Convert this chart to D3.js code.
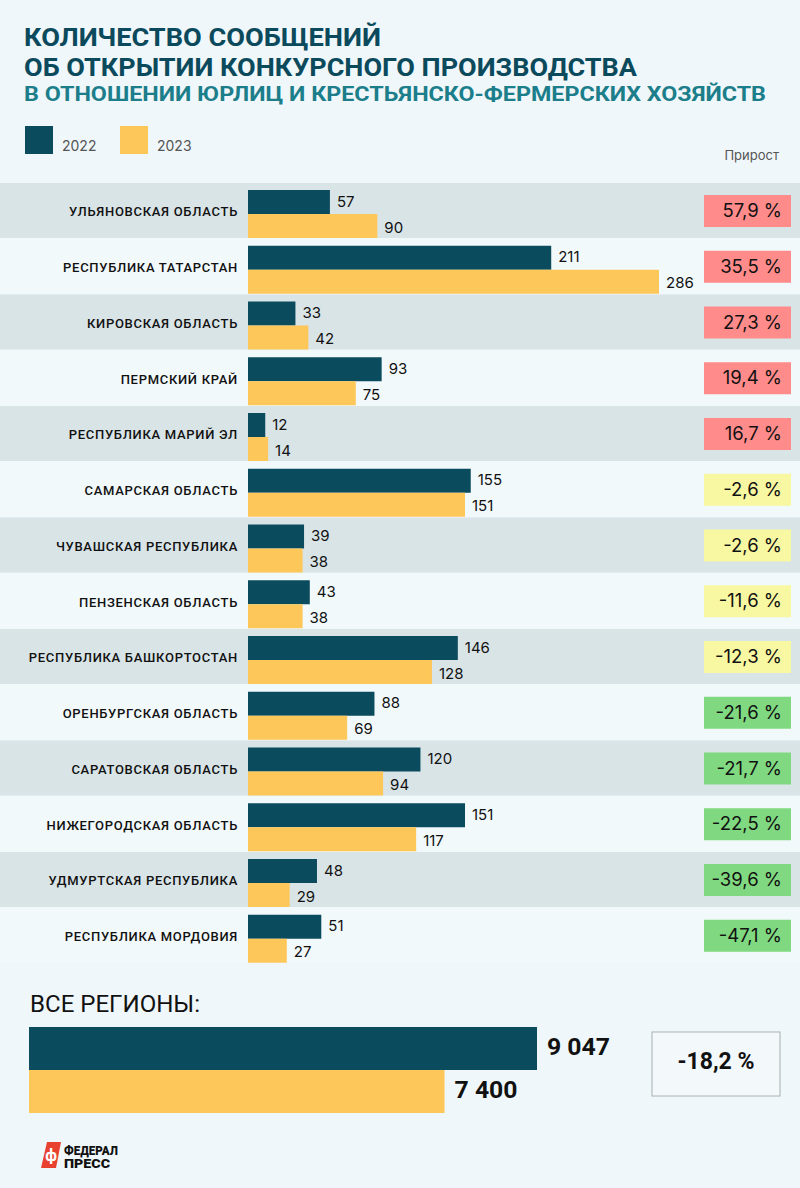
<!DOCTYPE html>
<html><head><meta charset="utf-8">
<script src="https://cdn.jsdelivr.net/npm/d3@7"></script>
<style>
html,body{margin:0;padding:0;background:#eff7fa;}
svg{display:block;}
</style></head>
<body>
<svg id="chart" width="800" height="1188"></svg>
<script>
const regions = ["УЛЬЯНОВСКАЯ ОБЛАСТЬ","РЕСПУБЛИКА ТАТАРСТАН","КИРОВСКАЯ ОБЛАСТЬ","ПЕРМСКИЙ КРАЙ","РЕСПУБЛИКА МАРИЙ ЭЛ","САМАРСКАЯ ОБЛАСТЬ","ЧУВАШСКАЯ РЕСПУБЛИКА","ПЕНЗЕНСКАЯ ОБЛАСТЬ","РЕСПУБЛИКА БАШКОРТОСТАН","ОРЕНБУРГСКАЯ ОБЛАСТЬ","САРАТОВСКАЯ ОБЛАСТЬ","НИЖЕГОРОДСКАЯ ОБЛАСТЬ","УДМУРТСКАЯ РЕСПУБЛИКА","РЕСПУБЛИКА МОРДОВИЯ"];
const values2022 = [57,211,33,93,12,155,39,43,146,88,120,151,48,51];
const values2023 = [90,286,42,75,14,151,38,38,128,69,94,117,29,27];
const growth = [57.9,35.5,27.3,19.4,16.7,-2.6,-2.6,-11.6,-12.3,-21.6,-21.7,-22.5,-39.6,-47.1];
const growthClass = ["up","up","up","up","up","mid","mid","mid","mid","down","down","down","down","down"];
const seriesNames = ["2022","2023"];
const totalValues = [9047,7400];
const totalGrowth = -18.2;
const titleLines = ["КОЛИЧЕСТВО СООБЩЕНИЙ","ОБ ОТКРЫТИИ КОНКУРСНОГО ПРОИЗВОДСТВА"];
const subtitle = "В ОТНОШЕНИИ ЮРЛИЦ И КРЕСТЬЯНСКО-ФЕРМЕРСКИХ ХОЗЯЙСТВ";

const C = {bg:"#eff7fa", band:"#d9e4e7", dark:"#0b4b5e", yellow:"#fec75a",
  up:"#ff8b8b", mid:"#f8f8a2", down:"#80d980", title:"#0b4a5c", sub:"#1b7e8a", text:"#111"};
const fmtPct = v => d3.format(".1f")(v).replace(".", ",").replace("−", "-") + " %";
const fmtInt = v => d3.format(",")(v).replace(/,/g, " ");

const svg = d3.select("#chart");
svg.append("rect").attr("width",800).attr("height",1188).attr("fill",C.bg);

// Title
const tw = [357, 613];
titleLines.forEach((t,i)=>{
  svg.append("text").attr("x",24).attr("y",46+i*29.5).text(t)
    .attr("font-family","Roboto").attr("font-weight",700).attr("font-size",26.5)
    .attr("fill",C.title).attr("textLength",tw[i]).attr("lengthAdjust","spacingAndGlyphs");
});
svg.append("text").attr("x",24).attr("y",101).text(subtitle)
  .attr("font-family","Roboto").attr("font-weight",700).attr("font-size",21)
  .attr("fill",C.sub).attr("textLength",742).attr("lengthAdjust","spacingAndGlyphs");

// Legend
const legColors = [C.dark, C.yellow];
seriesNames.forEach((s,i)=>{
  const x0 = 25 + i*95;
  svg.append("rect").attr("x",x0).attr("y",126).attr("width",28).attr("height",28).attr("fill",legColors[i]);
  svg.append("text").attr("x",x0+37).attr("y",150.5).text(s)
    .attr("font-family","Inter").attr("font-size",14).attr("fill","#555");
});
svg.append("text").attr("x",779).attr("y",160).attr("text-anchor","end").text("Прирост")
  .attr("font-family","Inter").attr("font-size",13).attr("fill","#555");

// Rows
const y = d3.scaleBand().domain(regions).range([183, 183+14*55.75]).padding(0);
const x = d3.scaleLinear().domain([0, 286]).range([248, 659]);
const data = regions.map((r,i)=>({r, a:values2022[i], b:values2023[i], g:growth[i], c:growthClass[i], i}));

const rows = svg.append("g").selectAll("g").data(data).join("g")
  .attr("transform", d=>`translate(0,${y(d.r)})`);
rows.append("rect").attr("x",0).attr("y",0).attr("width",800).attr("height",55)
  .attr("fill", d=> d.i%2===0 ? C.band : "#f2f9fb");
rows.append("text").attr("x",238).attr("y",30).attr("text-anchor","end")
  .attr("dominant-baseline","middle").text(d=>d.r)
  .attr("font-family","Roboto").attr("font-weight",500).attr("font-size",13)
  .attr("letter-spacing",0.7).attr("fill",C.text);
rows.append("rect").attr("x",x(0)).attr("y",7).attr("height",24)
  .attr("width",d=>x(d.a)-x(0)).attr("fill",C.dark);
rows.append("rect").attr("x",x(0)).attr("y",31).attr("height",24)
  .attr("width",d=>x(d.b)-x(0)).attr("fill",C.yellow);
rows.append("text").attr("x",d=>x(d.a)+7).attr("y",19.5).attr("dominant-baseline","middle")
  .text(d=>d.a).attr("font-family","Inter").attr("font-size",15).attr("fill",C.text);
rows.append("text").attr("x",d=>x(d.b)+7).attr("y",45.5).attr("dominant-baseline","middle")
  .text(d=>d.b).attr("font-family","Inter").attr("font-size",15).attr("fill",C.text);
rows.append("rect").attr("x",704).attr("y",12).attr("width",87).attr("height",32)
  .attr("fill",d=>C[d.c]);
rows.append("text").attr("x",782).attr("y",29).attr("text-anchor","end").attr("dominant-baseline","middle")
  .text(d=>fmtPct(d.g)).attr("font-family","Inter").attr("font-size",18.5).attr("fill",C.text);

// Totals
svg.append("text").attr("x",30).attr("y",1012).text("ВСЕ РЕГИОНЫ:")
  .attr("font-family","Roboto").attr("font-size",23).attr("fill",C.text)
  .attr("textLength",170).attr("lengthAdjust","spacingAndGlyphs");
const xt = d3.scaleLinear().domain([0, d3.max(totalValues)]).range([29, 537]);
const tColors = [C.dark, C.yellow];
totalValues.forEach((v,i)=>{
  const yy = 1027 + i*43;
  svg.append("rect").attr("x",xt(0)).attr("y",yy).attr("width",xt(v)-xt(0)).attr("height",43).attr("fill",tColors[i]);
  svg.append("text").attr("x",xt(v)+10).attr("y",yy+22).attr("dominant-baseline","middle").text(fmtInt(v))
    .attr("font-family","Roboto").attr("font-weight",700).attr("font-size",23.5).attr("fill",C.text)
    .attr("textLength",63).attr("lengthAdjust","spacingAndGlyphs");
});
svg.append("rect").attr("x",652).attr("y",1032).attr("width",128).attr("height",64)
  .attr("fill","#f3f9fb").attr("stroke","#aab0b3").attr("stroke-width",1);
svg.append("text").attr("x",716).attr("y",1063).attr("text-anchor","middle").attr("dominant-baseline","middle")
  .text(fmtPct(totalGrowth)).attr("font-family","Roboto").attr("font-weight",700).attr("font-size",23).attr("fill",C.text);

// Logo
const logo = svg.append("g");
logo.append("path").attr("d","M47,1142 L61,1142 L56,1168 L41,1168 Z").attr("fill","#e8412f");
logo.append("text").attr("x",51).attr("y",1161).attr("text-anchor","middle").text("ф")
  .attr("font-family","Roboto").attr("font-weight",700).attr("font-size",16).attr("fill","#fff");
logo.append("text").attr("x",64).attr("y",1155).text("ФЕДЕРАЛ")
  .attr("font-family","Roboto").attr("font-weight",900).attr("font-size",12).attr("fill","#111")
  .attr("textLength",54).attr("lengthAdjust","spacingAndGlyphs");
logo.append("text").attr("x",64).attr("y",1168).text("ПРЕСС")
  .attr("font-family","Roboto").attr("font-weight",900).attr("font-size",12).attr("fill","#111")
  .attr("textLength",46).attr("lengthAdjust","spacingAndGlyphs");
</script>
</body></html>
